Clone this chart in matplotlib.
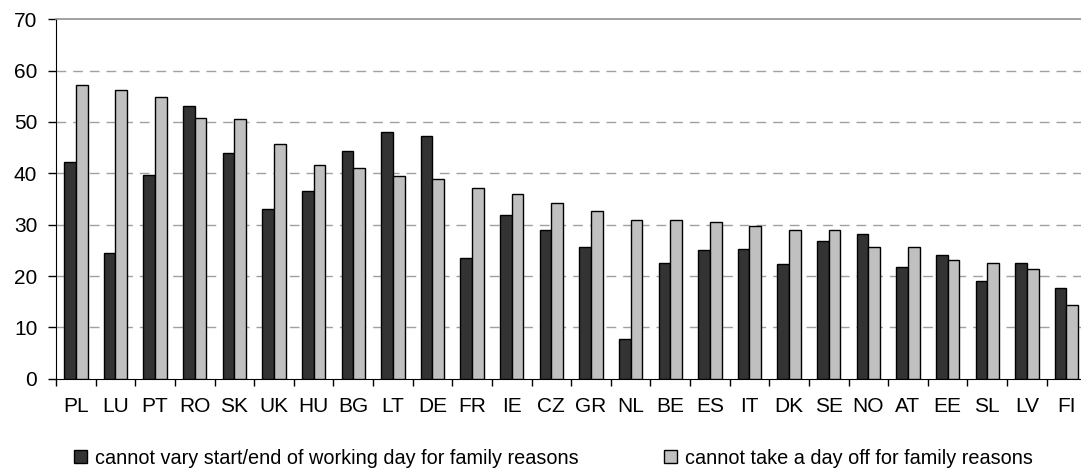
import numpy as np
import matplotlib
matplotlib.use("Agg")
import matplotlib.pyplot as plt
from matplotlib.patches import Patch
from matplotlib.ticker import FixedLocator, MultipleLocator

plt.rcParams['font.family'] = ['Liberation Sans', 'DejaVu Sans']

countries = ["PL", "LU", "PT", "RO", "SK", "UK", "HU", "BG", "LT", "DE", "FR", "IE", "CZ",
             "GR", "NL", "BE", "ES", "IT", "DK", "SE", "NO", "AT", "EE", "SL", "LV", "FI"]
vary_start_end = [42.2, 24.4, 39.6, 53.2, 44.0, 33.0, 36.6, 44.3, 48.1, 47.3, 23.5, 31.8, 28.9,
                  25.6, 7.8, 22.6, 25.0, 25.3, 22.3, 26.8, 28.2, 21.8, 24.1, 19.0, 22.6, 17.6]
day_off = [57.3, 56.2, 54.9, 50.8, 50.5, 45.8, 41.6, 41.0, 39.5, 38.9, 37.1, 36.0, 34.2,
           32.7, 30.9, 30.9, 30.6, 29.7, 28.9, 28.9, 25.6, 25.6, 23.2, 22.6, 21.4, 14.4]
series_labels = ["cannot vary start/end of working day for family reasons",
                 "cannot take a day off for family reasons"]

dark = "#333333"
light = "#c0c0c0"

W, H = 1081, 468
fig = plt.figure(figsize=(W / 100, H / 100), dpi=100)
ax = fig.add_axes([56 / W, 89.3 / H, 1030.3 / W, 359.4 / H])

x = np.arange(len(countries))
bw = 0.295
ax.bar(x - bw / 2, vary_start_end, width=bw, color=dark, edgecolor="black", linewidth=1.0, zorder=3)
ax.bar(x + bw / 2, day_off, width=bw, color=light, edgecolor="black", linewidth=1.0, zorder=3)

ax.set_xlim(-0.5, len(countries) - 0.5)
ax.set_ylim(0, 70)

# dashed horizontal gridlines, solid grey line at the top
for v in range(10, 70, 10):
    ax.axhline(v, color="#a0a0a0", linewidth=1.0, linestyle=(0, (7, 5)), zorder=1)
ax.spines['top'].set_color("#909090")
ax.spines['top'].set_linewidth(1.2)
ax.spines['right'].set_visible(False)
ax.spines['left'].set_color("black")
ax.spines['bottom'].set_color("black")

ax.yaxis.set_major_locator(MultipleLocator(10))
ax.tick_params(axis='y', direction='out', length=5.5, width=1, pad=8, labelsize=15)

ax.set_xticks(x)
ax.set_xticklabels(countries)
ax.xaxis.set_minor_locator(FixedLocator(np.arange(-0.5, len(countries), 1.0)))
ax.tick_params(axis='x', which='major', length=0, pad=13, labelsize=15)
ax.tick_params(axis='x', which='minor', direction='out', length=5, width=1)

handles = [Patch(facecolor=dark, edgecolor="black", linewidth=1.0),
           Patch(facecolor=light, edgecolor="black", linewidth=1.0)]
fig.legend(handles, series_labels, loc="center left", bbox_to_anchor=(74 / W, 1 - 458 / H),
           ncol=2, frameon=False, fontsize=14.3, handlelength=0.65, handleheight=0.65,
           handletextpad=0.4, columnspacing=4.3, borderaxespad=0, borderpad=0)

fig.savefig("out.png", dpi=100)
